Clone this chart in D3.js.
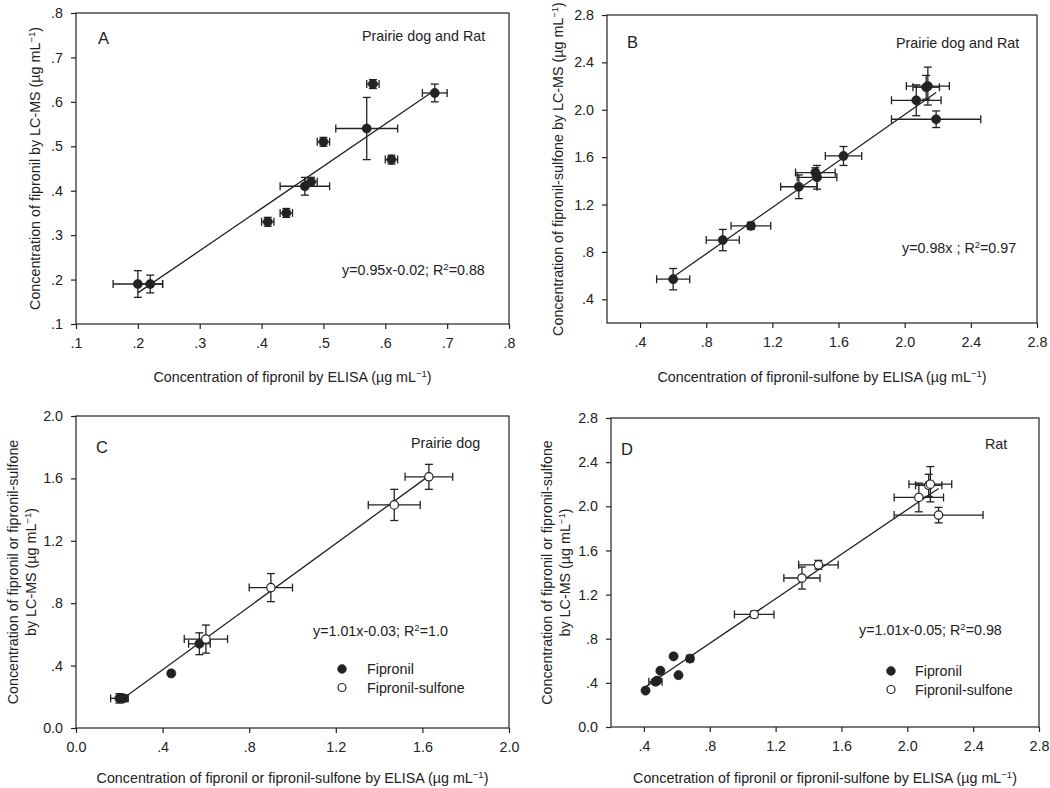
<!DOCTYPE html>
<html>
<head>
<meta charset="utf-8">
<script src="https://cdn.jsdelivr.net/npm/d3@7"></script>
<style>
  html, body { margin: 0; padding: 0; background: #fff; }
  svg { display: block; }
</style>
</head>
<body>
<svg id="chart" width="1050" height="788"></svg>
<script>
// ---------------- DATA ----------------
// each point: x = ELISA, y = LC-MS, xe / ye = error bar half-lengths
const prairieDogFipronil = [
  { x: 0.20, y: 0.19, xe: 0.04, ye: 0.03 },
  { x: 0.22, y: 0.19, xe: 0.02, ye: 0.02 },
  { x: 0.44, y: 0.35, xe: 0.01, ye: 0.01 },
  { x: 0.57, y: 0.54, xe: 0.05, ye: 0.07 }
];
const ratFipronil = [
  { x: 0.41, y: 0.33, xe: 0.01, ye: 0.01 },
  { x: 0.47, y: 0.41, xe: 0.04, ye: 0.02 },
  { x: 0.48, y: 0.42, xe: 0.01, ye: 0.01 },
  { x: 0.50, y: 0.51, xe: 0.01, ye: 0.01 },
  { x: 0.58, y: 0.64, xe: 0.01, ye: 0.01 },
  { x: 0.61, y: 0.47, xe: 0.01, ye: 0.01 },
  { x: 0.68, y: 0.62, xe: 0.02, ye: 0.02 }
];
const prairieDogSulfone = [
  { x: 0.60, y: 0.57, xe: 0.10, ye: 0.09 },
  { x: 0.90, y: 0.90, xe: 0.10, ye: 0.09 },
  { x: 1.47, y: 1.43, xe: 0.12, ye: 0.10 },
  { x: 1.63, y: 1.61, xe: 0.11, ye: 0.08 }
];
const ratSulfone = [
  { x: 1.07, y: 1.02, xe: 0.12, ye: 0.03 },
  { x: 1.36, y: 1.35, xe: 0.11, ye: 0.10 },
  { x: 1.46, y: 1.47, xe: 0.12, ye: 0.04 },
  { x: 2.07, y: 2.08, xe: 0.15, ye: 0.13 },
  { x: 2.13, y: 2.19, xe: 0.08, ye: 0.10 },
  { x: 2.14, y: 2.20, xe: 0.13, ye: 0.16 },
  { x: 2.19, y: 1.92, xe: 0.27, ye: 0.07 }
];

const panelLetters = ["A", "B", "C", "D"];
const panelSubjects = ["Prairie dog and Rat", "Prairie dog and Rat", "Prairie dog", "Rat"];
const fitSlopes = [0.95, 0.98, 1.01, 1.01];
const fitIntercepts = [-0.02, 0.00, -0.03, -0.05];
const fitEquations = ["y=0.95x-0.02; R", "y=0.98x ; R", "y=1.01x-0.03; R", "y=1.01x-0.05; R"];
const fitR2 = ["=0.88", "=0.97", "=1.0", "=0.98"];

const xTitles = [
  "Concentration of fipronil by ELISA (\u00b5g mL",
  "Concentration of fipronil-sulfone by ELISA (\u00b5g mL",
  "Concentration of fipronil or fipronil-sulfone by ELISA (\u00b5g mL",
  "Concetration of fipronil or fipronil-sulfone by ELISA (\u00b5g mL"
];
const yTitles = [
  ["Concentration of fipronil by LC-MS (\u00b5g mL"],
  ["Concentration of fipronil-sulfone by LC-MS (\u00b5g mL"],
  ["Concentration of fipronil or fipronil-sulfone", "by LC-MS (\u00b5g mL"],
  ["Concentration of fipronil or fipronil-sulfone", "by LC-MS (\u00b5g mL"]
];
const legendLabels = ["Fipronil", "Fipronil-sulfone"];

const ticksA = [0.1, 0.2, 0.3, 0.4, 0.5, 0.6, 0.7, 0.8];
const ticksB = [0.4, 0.8, 1.2, 1.6, 2.0, 2.4, 2.8];
const ticksC = [0.0, 0.4, 0.8, 1.2, 1.6, 2.0];
const ticksDX = [0.4, 0.8, 1.2, 1.6, 2.0, 2.4, 2.8];
const ticksDY = [0.0, 0.4, 0.8, 1.2, 1.6, 2.0, 2.4, 2.8];

// ---------------- DRAWING ----------------
const FONT = "'Liberation Sans', Arial, Helvetica, sans-serif";
const INK = "#222";
const FS = 14.3;
const svg = d3.select("#chart");

function fmtTick(v) {
  if (Math.abs(v) < 1e-9) return "0.0";
  const s = v.toFixed(1);
  return v < 1 ? s.replace(/^0/, "") : s;
}

function titleWithSup(sel, main, sup, tail) {
  sel.append("tspan").text(main);
  sel.append("tspan").attr("font-size", 9.5).attr("dy", -5.5).text(sup);
  sel.append("tspan").attr("dy", 5.5).text(tail);
}

const panels = [
  { box: [76, 509, 13, 324], xd: [0.1, 0.8], yd: [0.1, 0.8], xt: ticksA, yt: ticksA,
    sets: [{ d: prairieDogFipronil, open: false }, { d: ratFipronil, open: false }],
    letter: [98, 44], subj: [362, 41], eq: [342, 275], legend: null, xTitleY: 382, yTitleX: [35] },
  { box: [607, 1037, 15, 323], xd: [0.2, 2.8], yd: [0.2, 2.8], xt: ticksB, yt: ticksB,
    sets: [{ d: prairieDogSulfone, open: false }, { d: ratSulfone, open: false }],
    letter: [627, 48], subj: [896, 48], eq: [902, 253], legend: null, xTitleY: 382, yTitleX: [558] },
  { box: [76, 509, 416, 728], xd: [0, 2.0], yd: [0, 2.0], xt: ticksC, yt: ticksC,
    sets: [{ d: prairieDogFipronil, open: false }, { d: prairieDogSulfone, open: true }],
    letter: [96, 453], subj: [411, 448], eq: [313, 636], legend: [342, 669, 367], xTitleY: 783, yTitleX: [13, 31] },
  { box: [611, 1039, 418, 727], xd: [0.2, 2.8], yd: [0, 2.8], xt: ticksDX, yt: ticksDY,
    sets: [{ d: ratFipronil, open: false }, { d: ratSulfone, open: true }],
    letter: [621, 455], subj: [985, 449], eq: [859, 635], legend: [891, 671, 915], xTitleY: 783, yTitleX: [547, 565] }
];

panels.forEach((p, i) => {
  const [x0, x1, y0, y1] = p.box;
  const x = d3.scaleLinear().domain(p.xd).range([x0, x1]);
  const y = d3.scaleLinear().domain(p.yd).range([y1, y0]);
  const g = svg.append("g");

  // axes
  const xAxis = g.append("g").attr("transform", `translate(0,${y1})`)
    .call(d3.axisBottom(x).tickValues(p.xt).tickFormat(fmtTick).tickSize(5).tickSizeOuter(0).tickPadding(9));
  const yAxis = g.append("g").attr("transform", `translate(${x0},0)`)
    .call(d3.axisLeft(y).tickValues(p.yt).tickFormat(fmtTick).tickSize(5).tickSizeOuter(0).tickPadding(8));
  [xAxis, yAxis].forEach(a => {
    a.select(".domain").remove();
    a.selectAll("line").attr("stroke", INK).attr("stroke-width", 1.2);
    a.selectAll("text").attr("fill", INK).attr("font-family", FONT).attr("font-size", FS);
  });

  // frame
  g.append("rect").attr("x", x0).attr("y", y0).attr("width", x1 - x0).attr("height", y1 - y0)
    .attr("fill", "none").attr("stroke", INK).attr("stroke-width", 1.2);

  // regression line across the data range
  const allPts = p.sets.flatMap(s => s.d);
  const [mn, mx] = d3.extent(allPts, d => d.x);
  const f = v => fitSlopes[i] * v + fitIntercepts[i];
  g.append("line").attr("x1", x(mn)).attr("y1", y(f(mn))).attr("x2", x(mx)).attr("y2", y(f(mx)))
    .attr("stroke", INK).attr("stroke-width", 1.3);

  // error bars & markers
  const cap = 4;
  p.sets.forEach(s => {
    const eg = g.append("g").attr("stroke", INK).attr("stroke-width", 1.3).attr("fill", "none");
    s.d.forEach(d => {
      const cx = x(d.x), cy = y(d.y);
      const xa = x(d.x - d.xe), xb = x(d.x + d.xe);
      const ya = y(d.y + d.ye), yb = y(d.y - d.ye);
      eg.append("line").attr("x1", xa).attr("x2", xb).attr("y1", cy).attr("y2", cy);
      eg.append("line").attr("x1", xa).attr("x2", xa).attr("y1", cy - cap).attr("y2", cy + cap);
      eg.append("line").attr("x1", xb).attr("x2", xb).attr("y1", cy - cap).attr("y2", cy + cap);
      eg.append("line").attr("x1", cx).attr("x2", cx).attr("y1", ya).attr("y2", yb);
      eg.append("line").attr("x1", cx - cap).attr("x2", cx + cap).attr("y1", ya).attr("y2", ya);
      eg.append("line").attr("x1", cx - cap).attr("x2", cx + cap).attr("y1", yb).attr("y2", yb);
    });
    g.append("g").selectAll("circle").data(s.d).join("circle")
      .attr("cx", d => x(d.x)).attr("cy", d => y(d.y))
      .attr("r", s.open ? 4.2 : 4.6)
      .attr("fill", s.open ? "#fff" : INK)
      .attr("stroke", INK).attr("stroke-width", s.open ? 1.2 : 0.6);
  });

  // annotations
  g.append("text").attr("x", p.letter[0]).attr("y", p.letter[1]).text(panelLetters[i])
    .attr("font-family", FONT).attr("font-size", 16.5).attr("fill", INK);
  g.append("text").attr("x", p.subj[0]).attr("y", p.subj[1]).text(panelSubjects[i])
    .attr("font-family", FONT).attr("font-size", FS).attr("fill", INK);
  const eq = g.append("text").attr("x", p.eq[0]).attr("y", p.eq[1])
    .attr("font-family", FONT).attr("font-size", FS).attr("fill", INK);
  eq.append("tspan").text(fitEquations[i]);
  eq.append("tspan").attr("font-size", 9.5).attr("dy", -5.5).text("2");
  eq.append("tspan").attr("dy", 5.5).text(fitR2[i]);

  if (p.legend) {
    const [lx, ly, tx] = p.legend;
    legendLabels.forEach((lab, k) => {
      const yy = ly + k * 18.5;
      g.append("circle").attr("cx", lx).attr("cy", yy).attr("r", k ? 4.0 : 4.4)
        .attr("fill", k ? "#fff" : INK).attr("stroke", INK).attr("stroke-width", k ? 1.2 : 0.6);
      g.append("text").attr("x", tx).attr("y", yy + 5).text(lab)
        .attr("font-family", FONT).attr("font-size", FS).attr("fill", INK);
    });
  }

  // axis titles
  const xt = g.append("text").attr("x", (x0 + x1) / 2).attr("y", p.xTitleY).attr("text-anchor", "middle")
    .attr("font-family", FONT).attr("font-size", FS).attr("fill", INK);
  titleWithSup(xt, xTitles[i], "\u22121", ")");

  const cyMid = (y0 + y1) / 2;
  yTitles[i].forEach((line, k) => {
    const tx = p.yTitleX[k];
    const t = g.append("text").attr("transform", `translate(${tx},${cyMid}) rotate(-90)`)
      .attr("text-anchor", "middle").attr("dy", "0.35em")
      .attr("font-family", FONT).attr("font-size", FS).attr("fill", INK);
    if (k === yTitles[i].length - 1) titleWithSup(t, line, "\u22121", ")");
    else t.text(line);
  });
});
</script>
</body>
</html>
